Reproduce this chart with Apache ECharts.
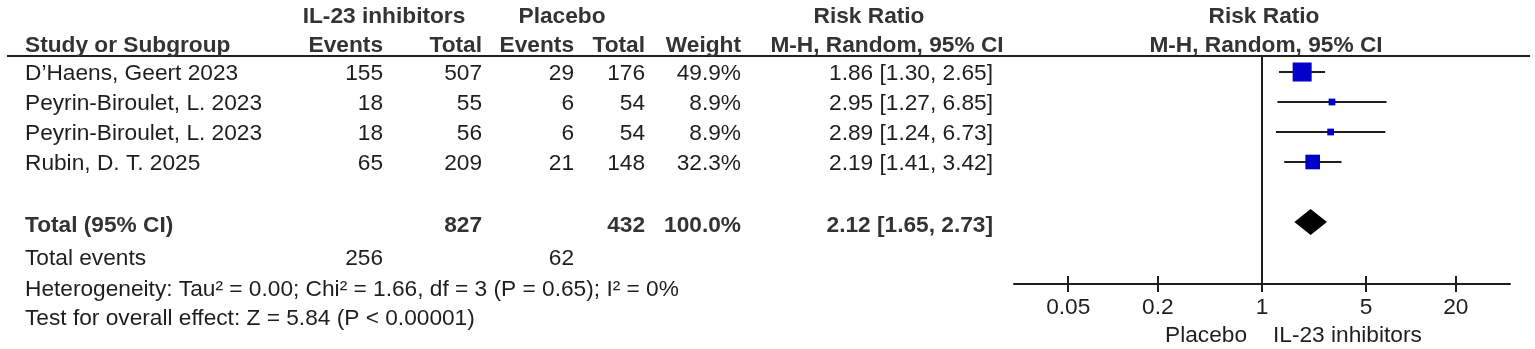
<!DOCTYPE html>
<html>
<head>
<meta charset="utf-8">
<script src="https://cdn.jsdelivr.net/npm/echarts@6/dist/echarts.min.js"></script>
<style>
  html, body { margin: 0; padding: 0; background: #fff; }
  #chart { width: 1535px; height: 349px; }
</style>
</head>
<body>
<div id="chart"></div>
<script>
// study data
const studies = ['D\u2019Haens, Geert 2023', 'Peyrin-Biroulet, L. 2023', 'Peyrin-Biroulet, L. 2023', 'Rubin, D. T. 2025'];
const trtEvents = [155, 18, 18, 65];
const trtTotal = [507, 55, 56, 209];
const ctlEvents = [29, 6, 6, 21];
const ctlTotal = [176, 54, 54, 148];
const weights = [49.9, 8.9, 8.9, 32.3];
const rr = [1.86, 2.95, 2.89, 2.19];
const rrLow = [1.30, 1.27, 1.24, 1.41];
const rrHigh = [2.65, 6.85, 6.73, 3.42];

// pooled result
const pooled = [2.12, 1.65, 2.73]; // rr, low, high
const pooledWeight = 100.0;
const totalTrt = 827;
const totalCtl = 432;
const totalEventsTrt = 256;
const totalEventsCtl = 62;
const heterogeneity = 'Heterogeneity: Tau\u00b2 = 0.00; Chi\u00b2 = 1.66, df = 3 (P = 0.65); I\u00b2 = 0%';
const overallEffect = 'Test for overall effect: Z = 5.84 (P < 0.00001)';

// axis ticks
const tickValues = [0.05, 0.2, 1, 5, 20];
const tickLabels = ['0.05', '0.2', '1', '5', '20'];

const FONT = '"Liberation Sans", Arial, Helvetica, sans-serif';
const FS = 22.7;
const TEXT = '#1e1e1e';
const BOLD = '#333';
const LINE = '#1e1e1e';
const BLUE = '#0000c8';

const chart = echarts.init(document.getElementById('chart'));

const logTicks = tickValues.map(Math.log10);
function tickLabel(v) {
    for (let i = 0; i < logTicks.length; i++) {
        if (Math.abs(logTicks[i] - v) < 1e-6) return tickLabels[i];
    }
    return '';
}

const studyData = rr.map((v, i) => [Math.log10(v), i, Math.log10(rrLow[i]), Math.log10(rrHigh[i]), weights[i]]);
const pooledRow = studies.length + 1;
const pooledData = [[Math.log10(pooled[0]), pooledRow, Math.log10(pooled[1]), Math.log10(pooled[2])]];

const xAxisBase = {
    type: 'value',
    gridIndex: 0,
    min: -1.665,
    max: 1.665,
    position: 'bottom',
    splitLine: { show: false }
};

chart.setOption({
    animation: false,
    grid: { left: 1014, right: 25, top: 56, bottom: 65, outerBoundsMode: 'none' },
    xAxis: [
        Object.assign({}, xAxisBase, {
            axisLine: { show: true, onZero: false, lineStyle: { color: LINE, width: 2 } },
            axisTick: { show: true, customValues: logTicks, length: 8, lineStyle: { color: LINE, width: 2 } },
            axisLabel: {
                show: true, customValues: logTicks, formatter: tickLabel,
                fontSize: FS, fontFamily: FONT, color: TEXT, margin: 12
            }
        }),
        Object.assign({}, xAxisBase, {
            axisLine: { show: false, onZero: false },
            axisTick: { show: true, inside: true, customValues: logTicks, length: 8, lineStyle: { color: LINE, width: 2 } },
            axisLabel: { show: false }
        })
    ],
    yAxis: {
        type: 'value', inverse: true, min: -0.5333, max: 7.0667, show: false
    },
    series: [
        {
            type: 'custom',
            name: 'studies',
            data: studyData,
            encode: { x: [0, 2, 3], y: 1 },
            renderItem(params, api) {
                const y = api.value(1);
                const p = api.coord([api.value(0), y]);
                const lo = api.coord([api.value(2), y]);
                const hi = api.coord([api.value(3), y]);
                const s = 1.82 * Math.pow(api.value(4), 0.6);
                return {
                    type: 'group',
                    children: [
                        { type: 'line', shape: { x1: lo[0], y1: lo[1], x2: hi[0], y2: hi[1] }, style: { stroke: LINE, lineWidth: 2 } },
                        { type: 'rect', shape: { x: p[0] - s / 2, y: p[1] - s / 2, width: s, height: s }, style: { fill: BLUE } }
                    ]
                };
            },
            markLine: {
                silent: true,
                symbol: 'none',
                label: { show: false },
                lineStyle: { color: LINE, width: 2, type: 'solid' },
                data: [{ xAxis: 0 }]
            }
        },
        {
            type: 'custom',
            name: 'pooled',
            data: pooledData,
            encode: { x: [0, 2, 3], y: 1 },
            renderItem(params, api) {
                const y = api.value(1);
                const p = api.coord([api.value(0), y]);
                const lo = api.coord([api.value(2), y]);
                const hi = api.coord([api.value(3), y]);
                const h = 13;
                return {
                    type: 'polygon',
                    shape: { points: [[lo[0], p[1]], [p[0], p[1] - h], [hi[0], p[1]], [p[0], p[1] + h]] },
                    style: { fill: '#000' }
                };
            }
        }
    ]
});

// table text
function txt(x, y, text, align, bold) {
    return {
        type: 'text', x: x, y: y, silent: true,
        style: {
            text: String(text), align: align, verticalAlign: 'middle',
            fontSize: FS, fontFamily: FONT, fontWeight: bold ? 'bold' : 'normal',
            fill: bold ? BOLD : TEXT
        }
    };
}

const col = { study: 25, trtEv: 383, trtTot: 482, ctlEv: 574, ctlTot: 645, weight: 741, ci: 993 };
const fmtCI = (a, b, c) => a.toFixed(2) + ' [' + b.toFixed(2) + ', ' + c.toFixed(2) + ']';

const elements = [
    { type: 'line', silent: true, shape: { x1: 7, y1: 56, x2: 1530, y2: 56 }, style: { stroke: LINE, lineWidth: 2 } },
    txt(384, 17, 'IL-23 inhibitors', 'center', true),
    txt(562, 17, 'Placebo', 'center', true),
    txt(869, 17, 'Risk Ratio', 'center', true),
    txt(1264, 17, 'Risk Ratio', 'center', true),
    txt(col.study, 46, 'Study or Subgroup', 'left', true),
    txt(col.trtEv, 46, 'Events', 'right', true),
    txt(col.trtTot, 46, 'Total', 'right', true),
    txt(col.ctlEv, 46, 'Events', 'right', true),
    txt(col.ctlTot, 46, 'Total', 'right', true),
    txt(col.weight, 46, 'Weight', 'right', true),
    txt(887, 46, 'M-H, Random, 95% CI', 'center', true),
    txt(1266, 46, 'M-H, Random, 95% CI', 'center', true)
];

studies.forEach((name, i) => {
    const y = chart.convertToPixel({ yAxisIndex: 0 }, i) + 2;
    elements.push(
        txt(col.study, y, name, 'left'),
        txt(col.trtEv, y, trtEvents[i], 'right'),
        txt(col.trtTot, y, trtTotal[i], 'right'),
        txt(col.ctlEv, y, ctlEvents[i], 'right'),
        txt(col.ctlTot, y, ctlTotal[i], 'right'),
        txt(col.weight, y, weights[i].toFixed(1) + '%', 'right'),
        txt(col.ci, y, fmtCI(rr[i], rrLow[i], rrHigh[i]), 'right')
    );
});

const yTot = chart.convertToPixel({ yAxisIndex: 0 }, pooledRow) + 4;
elements.push(
    txt(col.study, yTot, 'Total (95% CI)', 'left', true),
    txt(col.trtTot, yTot, totalTrt, 'right', true),
    txt(col.ctlTot, yTot, totalCtl, 'right', true),
    txt(col.weight, yTot, pooledWeight.toFixed(1) + '%', 'right', true),
    txt(col.ci, yTot, fmtCI(pooled[0], pooled[1], pooled[2]), 'right', true),
    txt(col.study, 259, 'Total events', 'left'),
    txt(col.trtEv, 259, totalEventsTrt, 'right'),
    txt(col.ctlEv, 259, totalEventsCtl, 'right'),
    txt(col.study, 290, heterogeneity, 'left'),
    txt(col.study, 319, overallEffect, 'left'),
    txt(1247, 336, 'Placebo', 'right'),
    txt(1273, 336, 'IL-23 inhibitors', 'left')
);

chart.setOption({ graphic: { elements: elements } });
</script>
</body>
</html>
